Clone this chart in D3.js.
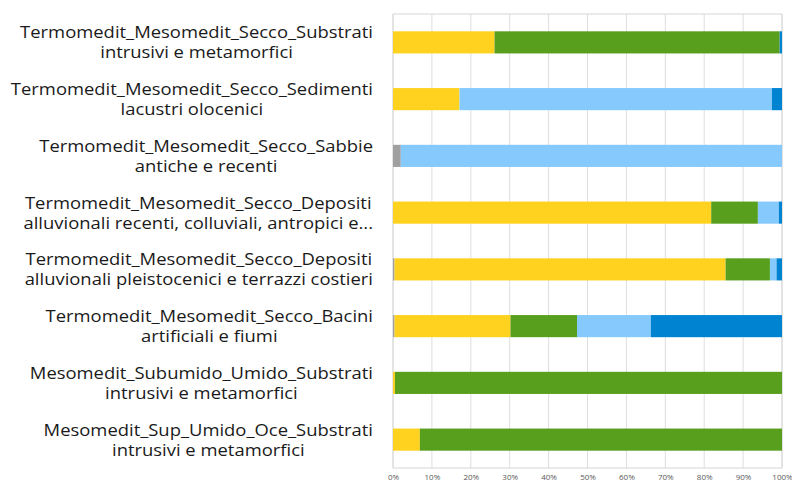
<!DOCTYPE html>
<html>
<head>
<meta charset="utf-8">
<script src="https://cdn.jsdelivr.net/npm/d3@7"></script>
<style>
  body { margin: 0; background: #fff; }
  svg { display: block; }
</style>
</head>
<body>
<div id="chart"></div>
<script>
// categories, top to bottom (each label is two lines)
var categories = [
  ["Termomedit_Mesomedit_Secco_Substrati", "intrusivi e metamorfici"],
  ["Termomedit_Mesomedit_Secco_Sedimenti", "lacustri olocenici"],
  ["Termomedit_Mesomedit_Secco_Sabbie", "antiche e recenti"],
  ["Termomedit_Mesomedit_Secco_Depositi", "alluvionali recenti, colluviali, antropici e..."],
  ["Termomedit_Mesomedit_Secco_Depositi", "alluvionali pleistocenici e terrazzi costieri"],
  ["Termomedit_Mesomedit_Secco_Bacini", "artificiali e fiumi"],
  ["Mesomedit_Subumido_Umido_Substrati", "intrusivi e metamorfici"],
  ["Mesomedit_Sup_Umido_Oce_Substrati", "intrusivi e metamorfici"]
];

// series shares (%) per category, same order as categories
var seriesNames = ["grigio", "giallo", "verde", "azzurro", "blu"];
var grigio  = [0,    0,    2.0,  0,    0.4,  0.4,  0,    0];
var giallo  = [26.1, 17.1, 0,    81.8, 85.1, 29.8, 0.5,  6.9];
var verde   = [73.3, 0,    0,    12.0, 11.4, 17.1, 99.5, 93.1];
var azzurro = [0,    80.3, 98.0, 5.4,  1.7,  19.0, 0,    0];
var blu     = [0.6,  2.6,  0,    0.8,  1.4,  33.7, 0,    0];
var colors = ["#a0a0a0", "#ffd21f", "#589f1e", "#85c9fd", "#0083d1"];

var tickValues = [0, 0.1, 0.2, 0.3, 0.4, 0.5, 0.6, 0.7, 0.8, 0.9, 1];

var width = 792, height = 481;
var margin = {left: 393, top: 14, right: 10, bottom: 13};

var rows = categories.map(function(c, i){
  return {key: i, grigio: grigio[i], giallo: giallo[i], verde: verde[i], azzurro: azzurro[i], blu: blu[i]};
});
var stack = d3.stack().keys(seriesNames).offset(d3.stackOffsetExpand);
var layers = stack(rows);

var svg = d3.select("#chart").append("svg")
  .attr("width", width)
  .attr("height", height);

var x = d3.scaleLinear().domain([0, 1]).range([margin.left, 782]);
var y = d3.scaleBand().domain(d3.range(categories.length))
  .range([margin.top, height - margin.bottom])
  .paddingInner(0.61).paddingOuter(0.305);

// gridlines
svg.append("g")
  .selectAll("line")
  .data(tickValues)
  .enter().append("line")
    .attr("x1", d => x(d)).attr("x2", d => x(d))
    .attr("y1", margin.top).attr("y2", height - margin.bottom)
    .attr("stroke", d => (d === 0 || d === 1) ? "#c8c8c8" : "#dedede")
    .attr("stroke-width", 1);
svg.append("line")
  .attr("x1", x(0)).attr("x2", x(1))
  .attr("y1", margin.top).attr("y2", margin.top)
  .attr("stroke", "#d6d6d6");
svg.append("line")
  .attr("x1", x(0)).attr("x2", x(1))
  .attr("y1", height - margin.bottom).attr("y2", height - margin.bottom)
  .attr("stroke", "#d6d6d6");

// bars
svg.append("g")
  .selectAll("g")
  .data(layers)
  .enter().append("g")
    .attr("fill", (d, i) => colors[i])
  .selectAll("rect")
  .data(d => d)
  .enter().append("rect")
    .attr("x", d => x(d[0]))
    .attr("width", d => Math.max(0, x(d[1]) - x(d[0])))
    .attr("y", (d, i) => y(i))
    .attr("height", y.bandwidth());

// x tick labels (partly cut by the bottom edge, as in the source)
var xAxis = d3.axisBottom(x).tickValues(tickValues).tickFormat(d3.format(".0%")).tickSize(0).tickPadding(6);
var ax = svg.append("g")
  .attr("transform", "translate(0," + (height - margin.bottom) + ")")
  .call(xAxis);
ax.select(".domain").remove();
ax.selectAll("text")
  .attr("font-family", "Open Sans, sans-serif")
  .attr("font-size", 8)
  .attr("fill", "#595959");

// category labels: centred text block, right edge against the axis,
// stretched sideways a bit to match the wide source font
var labelRight = 373;
var refWidth = 353; // width of first label line in the source
var labels = svg.append("g")
  .attr("font-family", "Open Sans, sans-serif")
  .attr("font-size", 15.5)
  .attr("fill", "#1a1a1a");

var probe = labels.append("text").text(categories[0][0]);
var sx = refWidth / probe.node().getComputedTextLength();
probe.remove();

categories.forEach(function(lines, i){
  var g = labels.append("g")
    .attr("transform", "translate(" + labelRight + ",0) scale(" + sx + ",1)");
  var texts = lines.map(function(line, j){
    return g.append("text")
      .attr("text-anchor", "middle")
      .attr("y", y(i) + y.bandwidth() / 2 + (j === 0 ? -4 : 16))
      .text(line);
  });
  var maxW = d3.max(texts, t => t.node().getComputedTextLength());
  texts.forEach(t => t.attr("x", -maxW / 2));
});
</script>
</body>
</html>
